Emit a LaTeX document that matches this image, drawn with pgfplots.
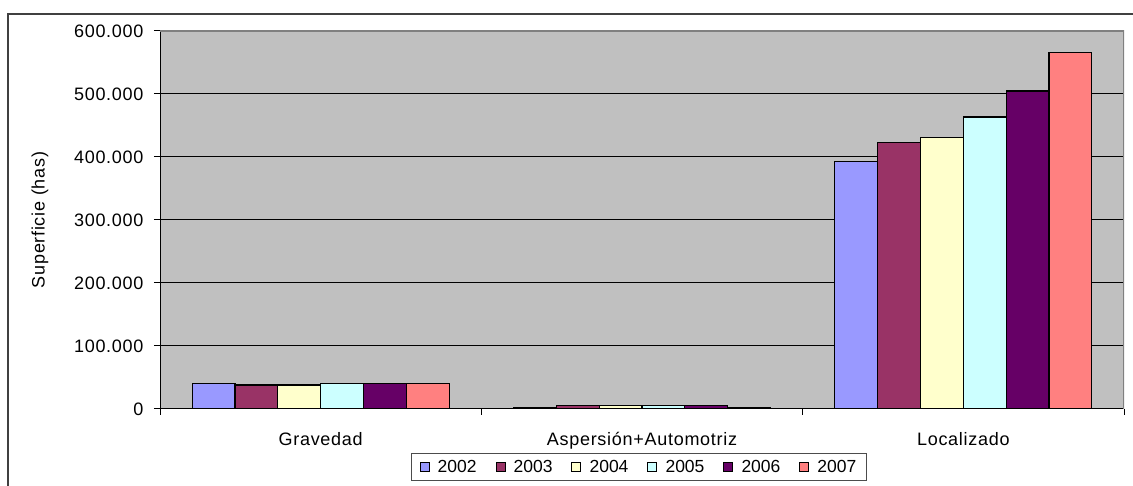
\documentclass[border=0pt]{standalone}
\usepackage{pgfplots}
\pgfplotsset{compat=1.18}
\usepackage{fontspec}
\setmainfont[LetterSpace=4]{Liberation Sans}
\newfontfamily\legfont{Liberation Sans}
\definecolor{bg}{HTML}{C0C0C0}
\definecolor{c2002}{HTML}{9999FF}
\definecolor{c2003}{HTML}{993366}
\definecolor{c2004}{HTML}{FFFFCC}
\definecolor{c2005}{HTML}{CCFFFF}
\definecolor{c2006}{HTML}{660066}
\definecolor{c2007}{HTML}{FF8080}
\pgfplotsset{leg/.style={legend image code/.code={\draw[##1,draw=black,line width=0.9pt] (0pt,-4.5pt) rectangle (9pt,4.5pt); \path (15pt,0pt);}}}
\begin{document}
\begin{tikzpicture}[font=\fontsize{18}{21}\selectfont]
\useasboundingbox (0pt,0pt) rectangle (1133pt,486pt);
\draw[line width=1.3pt, color=black!75] (8pt,-5pt) -- (8pt,472pt) -- (1140pt,472pt);
\begin{axis}[
  at={(160pt,77pt)}, anchor=south west,
  scale only axis, width=964pt, height=378pt,
  ybar, bar width=0.13333,
  xmin=-0.5, xmax=2.5, ymin=0, ymax=600000,
  axis x line*=bottom, axis y line*=left,
  axis line style={line width=1pt, black},
  axis background/.style={fill=bg},
  xtick={0,1,2},
  xticklabels={Gravedad,Aspersión+Automotriz,Localizado},
  major x tick style={draw=none},
  minor xtick={-0.5,0.5,1.5,2.5},
  minor tick length=6pt,
  minor x tick style={line width=1pt, black},
  ytick={0,100000,...,600000},
  major tick length=6pt,
  tick align=outside,
  y tick style={line width=1pt, black},
  ymajorgrids, grid style={line width=1pt, black},
  scaled y ticks=false,
  /pgf/number format/.cd, fixed, 1000 sep={.}, assume math mode=true,
  /pgfplots/.cd,
  xticklabel style={anchor=base, yshift=-30.5pt},
  yticklabel style={xshift=-7pt},
  ylabel={Superficie (has)},
  ylabel style={at={(axis description cs:0,0.5)}, anchor=center, yshift=120pt},
  legend columns=6,
  legend style={at={(axis description cs:0.2604,-0.1156)}, anchor=north west,
    font=\legfont\fontsize{17.5}{20}\selectfont,
    draw=black!70, line width=1pt, fill=white, inner xsep=8pt, inner ysep=5pt,
    /tikz/every even column/.append style={column sep=17pt}},
]
\addplot[leg, fill=c2002, draw=black, line width=1.2pt, bar shift=-0.33333] coordinates {(0,41000) (1,2500) (2,392500)};
\addplot[leg, fill=c2003, draw=black, line width=1.2pt, bar shift=-0.2] coordinates {(0,38000) (1,5700) (2,422700)};
\addplot[leg, fill=c2004, draw=black, line width=1.2pt, bar shift=-0.06667] coordinates {(0,38000) (1,5700) (2,430600)};
\addplot[leg, fill=c2005, draw=black, line width=1.2pt, bar shift=0.06667] coordinates {(0,41000) (1,5700) (2,463500)};
\addplot[leg, fill=c2006, draw=black, line width=1.2pt, bar shift=0.2] coordinates {(0,41000) (1,5700) (2,504800)};
\addplot[leg, fill=c2007, draw=black, line width=1.2pt, bar shift=0.33333] coordinates {(0,41000) (1,2500) (2,565600)};
\legend{2002,2003,2004,2005,2006,2007}
\draw[black!50, line width=1.2pt] (rel axis cs:0,1) -- (rel axis cs:1,1) -- (rel axis cs:1,0);
\end{axis}
\end{tikzpicture}
\end{document}
